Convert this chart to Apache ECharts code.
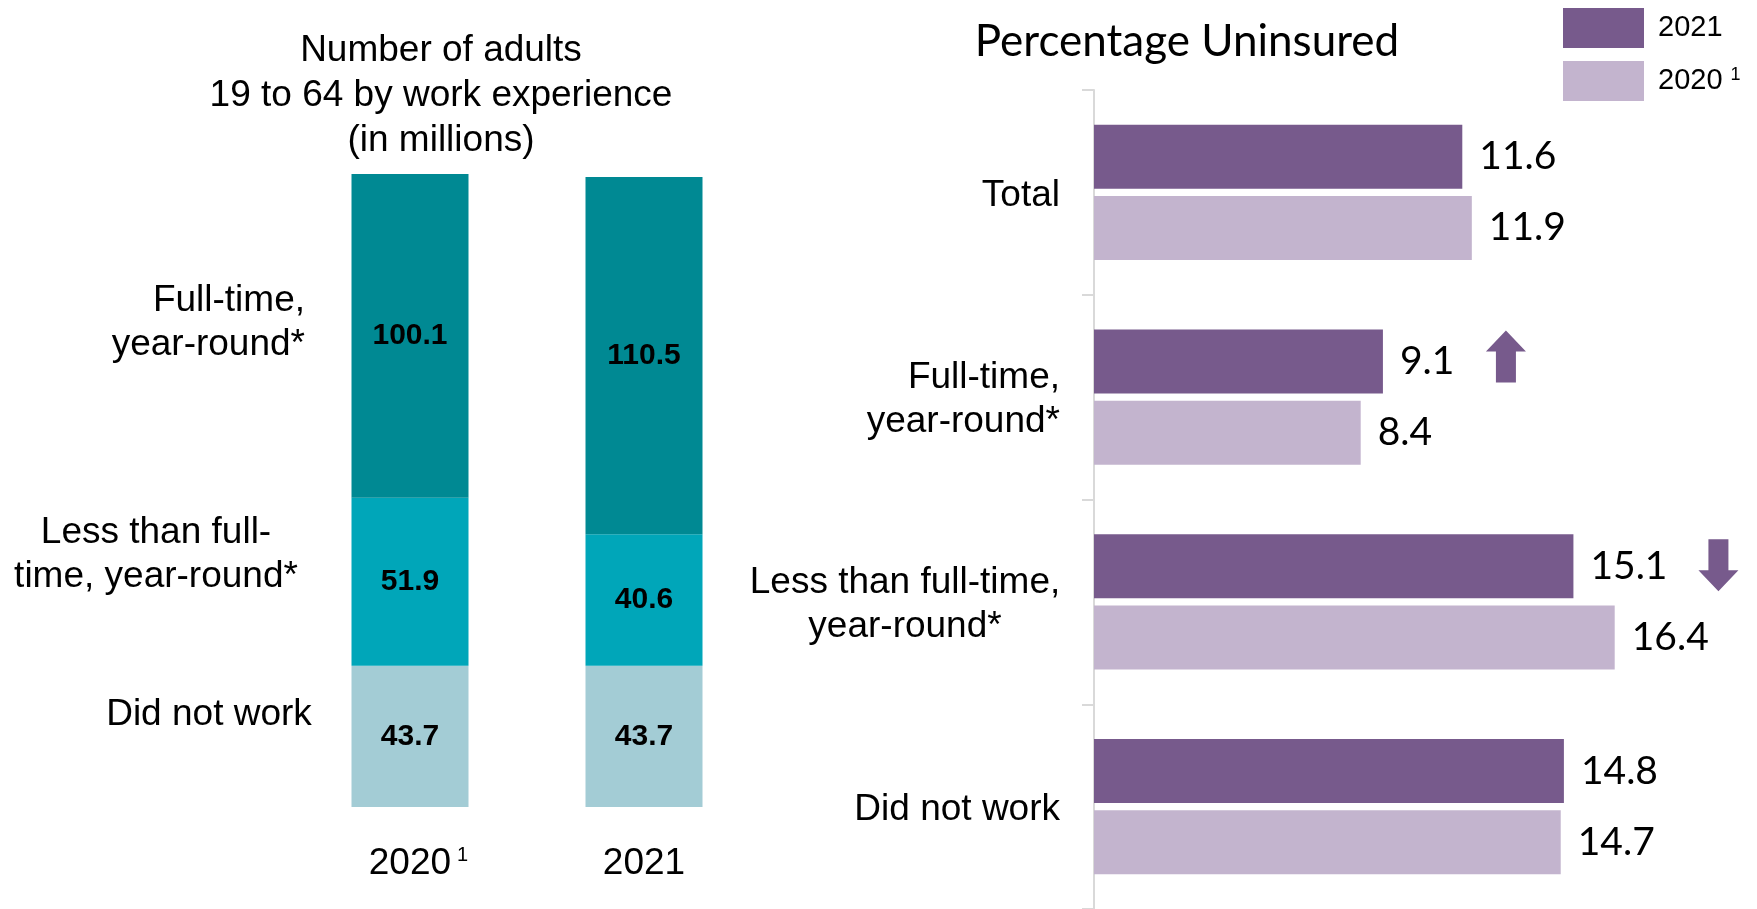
<!DOCTYPE html>
<html>
<head>
<meta charset="utf-8">
<script src="https://cdn.jsdelivr.net/npm/echarts@6/dist/echarts.min.js"></script>
<style>
html,body{margin:0;padding:0;background:#fff;}
#c{width:1757px;height:909px;}
</style>
</head>
<body>
<div id="c"></div>
<script>
// ---- Left chart data (millions of adults 19-64) ----
const leftYears = ['2020', '2021'];
const didNotWork = [43.7, 43.7];
const lessThanFull = [51.9, 40.6];
const fullTime = [100.1, 110.5];

// ---- Right chart data (percentage uninsured) ----
const rightCats = ['Total', 'Full-time,\nyear-round*', 'Less than full-time,\nyear-round*', 'Did not work'];
const unins2021 = [11.6, 9.1, 15.1, 14.8];
const unins2020 = [11.9, 8.4, 16.4, 14.7];

// change arrows on 2021 bars
const arrowCats = ['Full-time,\nyear-round*', 'Less than full-time,\nyear-round*'];
const arrowVals = [9.1, 15.1];
const arrowDirs = ['up', 'down'];

const ARIAL = '"Liberation Sans", Arial, sans-serif';
const CAL = 'Lato, "Open Sans", sans-serif';

const leftMax = Math.max(...leftYears.map((_, i) => didNotWork[i] + lessThanFull[i] + fullTime[i]));

const UP = 'path://M20,0 L40,21 L30,21 L30,52 L10,52 L10,21 L0,21 Z';
const DOWN = 'path://M10,0 L30,0 L30,31 L40,31 L20,52 L0,31 L10,31 Z';
const arrowOffsets = { up: [123, -5], down: [145, -1] };

const chart = echarts.init(document.getElementById('c'));

function stackSeries(name, data, color) {
  return {
    name: name, type: 'bar', stack: 'w', xAxisIndex: 0, yAxisIndex: 0,
    data: data, barWidth: 117,
    itemStyle: { color: color },
    label: { show: true, position: 'inside', color: '#000', fontFamily: ARIAL, fontWeight: 'bold', fontSize: 30 },
    emphasis: { disabled: true }
  };
}

function txt(text, x, y, align, size, family, lh) {
  return {
    type: 'text', silent: true,
    style: {
      text: text, x: x, y: y, fill: '#000',
      fontSize: size, fontFamily: family, lineHeight: lh || size * 1.2,
      align: align, textAlign: align, verticalAlign: 'middle', textVerticalAlign: 'middle'
    }
  };
}

chart.setOption({
  animation: false,
  backgroundColor: '#fff',
  grid: [
    { left: 293, top: 174, width: 468, height: 633 },
    { left: 1094, top: 90, width: 635, height: 820 }
  ],
  xAxis: [
    {
      type: 'category', gridIndex: 0, data: leftYears,
      axisLine: { show: false }, axisTick: { show: false },
      axisLabel: {
        margin: 38,
        formatter: v => v === '2020' ? '{p|2020}{s|1}' : '{a|' + v + '}',
        rich: {
          a: { fontSize: 37, fontFamily: ARIAL, color: '#000' },
          p: { fontSize: 37, fontFamily: ARIAL, color: '#000', padding: [0, 0, 0, 17] },
          s: { fontSize: 20, fontFamily: ARIAL, color: '#000', verticalAlign: 'top', padding: [0, 0, 0, 6] }
        }
      }
    },
    {
      type: 'value', gridIndex: 1, min: 0, max: 20,
      show: false, splitLine: { show: false }
    }
  ],
  yAxis: [
    {
      type: 'value', gridIndex: 0, min: 0, max: leftMax,
      show: false, splitLine: { show: false }
    },
    {
      type: 'category', gridIndex: 1, data: rightCats, inverse: true,
      axisLine: { show: true, lineStyle: { color: '#D9D9D9', width: 2 } },
      axisTick: { show: true, length: 12, lineStyle: { color: '#D9D9D9', width: 2 } },
      axisLabel: {
        margin: 34, color: '#000', fontSize: 37, fontFamily: ARIAL, lineHeight: 44,
        padding: [6, 0, 0, 0],
        formatter: v => v.indexOf('Less') === 0
          ? v.split('\n').map(l => '{c|' + l + '}').join('\n')
          : v,
        rich: {
          c: { width: 310, align: 'center', fontSize: 37, fontFamily: ARIAL, lineHeight: 44, color: '#000' }
        }
      }
    }
  ],
  legend: {
    data: ['2021', '2020'], orient: 'vertical', left: 1563, top: 8, padding: 0,
    itemWidth: 81, itemHeight: 40, itemGap: 13, icon: 'rect', selectedMode: false,
    formatter: n => n === '2020' ? '{a|2020} {s|1}' : '{a|' + n + '}',
    textStyle: {
      fontSize: 29, fontFamily: ARIAL, color: '#000',
      rich: {
        a: { fontSize: 29, fontFamily: ARIAL, color: '#000', padding: [0, 0, 0, 9] },
        s: { fontSize: 18, fontFamily: ARIAL, color: '#000', verticalAlign: 'top' }
      }
    }
  },
  graphic: [
    txt('Number of adults\n19 to 64 by work experience\n(in millions)', 441, 96, 'center', 37, ARIAL, 45),
    txt('Full-time,\nyear-round*', 305, 323, 'right', 37, ARIAL, 44),
    txt('Less than full-\ntime, year-round*', 156, 555, 'center', 37, ARIAL, 44),
    txt('Did not work', 209, 715, 'center', 37, ARIAL, 44),
    txt('Percentage Uninsured', 1187, 42, 'center', 44, CAL, 52)
  ],
  series: [
    stackSeries('Did not work', didNotWork, '#A3CCD5'),
    stackSeries('Less than full-time, year-round', lessThanFull, '#00A6B9'),
    stackSeries('Full-time, year-round', fullTime, '#008993'),
    {
      name: '2021', type: 'bar', xAxisIndex: 1, yAxisIndex: 1,
      data: unins2021, barWidth: 64, barGap: '11%',
      itemStyle: { color: '#775A8C' },
      label: { show: true, position: 'right', distance: 17, color: '#000', fontSize: 39, fontFamily: CAL, padding: [4, 0, 0, 0] },
      emphasis: { disabled: true },
      markPoint: {
        silent: true,
        label: { show: false },
        data: arrowCats.map((c, i) => ({
          coord: [arrowVals[i], c],
          symbol: arrowDirs[i] === 'up' ? UP : DOWN,
          symbolSize: [40, 52],
          symbolOffset: arrowOffsets[arrowDirs[i]],
          itemStyle: { color: '#775A8C' }
        }))
      }
    },
    {
      name: '2020', type: 'bar', xAxisIndex: 1, yAxisIndex: 1,
      data: unins2020, barWidth: 64, barGap: '11%',
      itemStyle: { color: '#C3B4CE' },
      label: { show: true, position: 'right', distance: 17, color: '#000', fontSize: 39, fontFamily: CAL, padding: [4, 0, 0, 0] },
      emphasis: { disabled: true }
    }
  ]
});
</script>
</body>
</html>
